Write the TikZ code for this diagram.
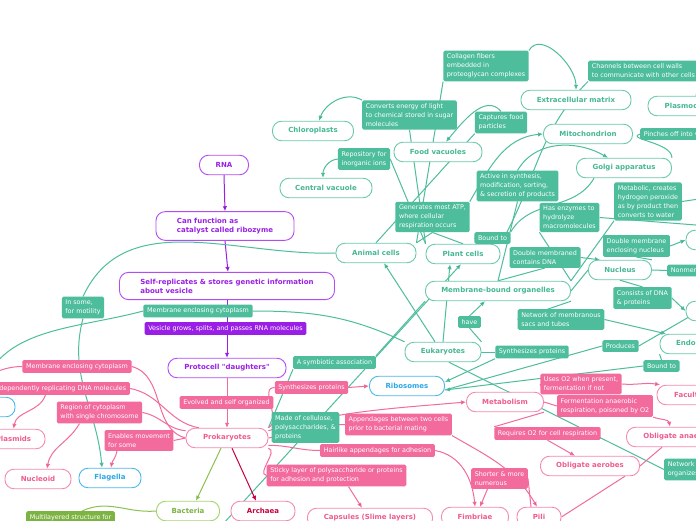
\documentclass[tikz,border=0pt]{standalone}
\usepackage{fontspec}
\setmainfont{DejaVu Sans}
\newfontfamily\djv{DejaVu Sans}
\usetikzlibrary{arrows.meta,backgrounds}

\definecolor{cTeal}{HTML}{4DBD9C}
\definecolor{cTealBd}{HTML}{6CC9AD}
\definecolor{cTealTxt}{HTML}{45B793}
\definecolor{cPink}{HTML}{F26B9C}
\definecolor{cPinkBd}{HTML}{F58AB1}
\definecolor{cPinkTxt}{HTML}{EE5C90}
\definecolor{cPurple}{HTML}{9A1FE6}
\definecolor{cPurpleBd}{HTML}{B24DF2}
\definecolor{cBlue}{HTML}{2DA8E6}
\definecolor{cBlueBd}{HTML}{4BB8EE}
\definecolor{cGreen}{HTML}{8CC152}
\definecolor{cGreenBd}{HTML}{A5D46A}
\definecolor{cGreenLbl}{HTML}{7CB342}
\definecolor{cArch}{HTML}{C8003E}

\begin{document}
\begin{tikzpicture}[x=1pt,y=1pt,
    topic/.style={draw,fill=white,rounded corners=9pt,line width=0.9pt,
      minimum height=19.5pt,inner xsep=6pt,inner ysep=2pt,align=left,
      font=\djv\fontsize{7}{8.8}\selectfont\bfseries},
    tealtopic/.style={topic,draw=cTealBd,text=cTealTxt},
    pinktopic/.style={topic,draw=cPinkBd,text=cPinkTxt},
    purpletopic/.style={topic,draw=cPurpleBd,text=cPurple},
    bluetopic/.style={topic,draw=cBlueBd,text=cBlue},
    tag/.style={rounded corners=1.5pt,inner xsep=3.6pt,inner ysep=3.4pt,
      align=left,text=white,font=\djv\fontsize{6.4}{8.8}\selectfont},
    tealtag/.style={tag,fill=cTeal},
    pinktag/.style={tag,fill=cPink},
    purpletag/.style={tag,fill=cPurple},
    greentag/.style={tag,fill=cGreenLbl},
    tealline/.style={draw=cTeal,line width=1pt},
    pinkline/.style={draw=cPink,line width=1pt},
    tip/.style={-{Latex[length=5pt,width=4.5pt]}}]

  \useasboundingbox (0,0) rectangle (696,520);
  \clip (0,0) rectangle (696,520);

  % origin of life
  \node[purpletopic,minimum width=49pt] (rna) at (224,355) {RNA};
  \node[purpletopic,minimum width=138pt,inner ysep=6.5pt] (ribozyme) at (225,294)
    {Can function as\\catalyst called ribozyme};
  \node[purpletopic,minimum width=215pt,inner ysep=6.5pt] (selfrep) at (227,234)
    {Self-replicates \& stores genetic information\\about vesicle};
  \node[purpletopic,minimum width=118pt] (protocell) at (227,152) {Protocell "daughters"};

  % prokaryotes
  \node[pinktopic,minimum width=82pt] (prok) at (227,82) {Prokaryotes};
  \node[topic,draw=cGreenBd,text=cGreenLbl,minimum width=63pt] (bacteria) at (188,9) {Bacteria};
  \node[pinktopic,text=cArch,minimum width=64pt] (archaea) at (263,9) {Archaea};
  \node[pinktopic,minimum width=125pt] (capsules) at (370,2) {Capsules (Slime layers)};
  \node[pinktopic,minimum width=67pt] (fimbriae) at (475,3) {Fimbriae};
  \node[pinktopic,minimum width=44pt] (pili) at (539,3) {Pili};
  \node[pinktopic,minimum width=99pt] (oblaer) at (590,54) {Obligate aerobes};
  \node[pinktopic,minimum width=111pt] (oblanaer) at (682,83) {Obligate anaerobes};
  \node[pinktopic,minimum width=122pt] (facult) at (718,125) {Facultative anaerobes};
  \node[pinktopic,minimum width=77pt] (metab) at (505,118) {Metabolism};
  \node[pinktopic,minimum width=66pt] (nucleoid) at (38,41) {Nucleoid};
  \node[pinktopic,minimum width=63pt] (plasmids) at (13.5,81) {Plasmids};
  \node[bluetopic,minimum width=62pt] (flagella) at (110,42) {Flagella};
  \node[bluetopic,minimum width=75pt] (ribo) at (407,134) {Ribosomes};
  \node[bluetopic,minimum width=70pt] (pm) at (-20,113) {};

  % eukaryotes
  \node[tealtopic,minimum width=76pt] (euk) at (443,168) {Eukaryotes};
  \node[tealtopic,minimum width=145pt] (mbo) at (498,229) {Membrane-bound organelles};
  \node[tealtopic,minimum width=80pt] (animal) at (376,267) {Animal cells};
  \node[tealtopic,minimum width=74pt] (plant) at (463,266) {Plant cells};
  \node[tealtopic,minimum width=63pt] (nucleus) at (620,250) {Nucleus};
  \node[tealtopic,minimum width=92pt] (centralvac) at (326,332) {Central vacuole};
  \node[tealtopic,minimum width=81pt] (chloro) at (313,389) {Chloroplasts};
  \node[tealtopic,minimum width=88pt] (foodvac) at (438,368) {Food vacuoles};
  \node[tealtopic,minimum width=110pt] (ecm) at (576,420) {Extracellular matrix};
  \node[tealtopic,minimum width=89pt] (mito) at (588,386) {Mitochondrion};
  \node[tealtopic,minimum width=95pt] (golgi) at (624,352) {Golgi apparatus};
  \node[tealtopic,minimum width=96pt] (plasmo) at (696,414) {Plasmodesmata};
  \node[tealtopic,minimum width=110pt] (nucenv) at (741,280) {Nuclear envelope};
  \node[tealtopic,minimum width=80pt] (chromatin) at (726,209) {Chromatin};
  \node[tealtopic,minimum width=122pt] (er) at (721,176) {Endoplasmic reticulum};

  \coordinate (cellwall) at (190,-40);
  \coordinate (lysos) at (760,290);
  \coordinate (perox) at (760,330);
  \coordinate (vesic) at (760,386);
  \coordinate (nucleolus) at (770,250);

  % teal labels
  \node[tealtag] (collagen) at (486,454) {Collagen fibers\\embedded in\\proteoglycan complexes};
  \node[tealtag] (converts) at (409.5,405) {Converts energy of light\\to chemical stored in sugar\\molecules};
  \node[tealtag] (captures) at (501,397.5) {Captures food\\particles};
  \node[tealtag,anchor=west] (channels) at (588,449) {Channels between cell walls\\to communicate with other cells};
  \node[tealtag] (repository) at (364,361) {Repository for\\inorganic ions};
  \node[tealtag,anchor=west] (pinches) at (640,386) {Pinches off into vesicles};
  \node[tealtag] (active) at (517.5,334) {Active in synthesis,\\modification, sorting,\\\& secretion of products};
  \node[tealtag] (metabolic) at (648,318.5) {Metabolic, creates\\hydrogen peroxide\\as by product then\\converts to water};
  \node[tealtag] (generates) at (432.5,303) {Generates most ATP,\\where cellular\\respiration occurs};
  \node[tealtag] (hasenz) at (569.5,302.5) {Has enzymes to\\hydrolyze\\macromolecules};
  \node[tealtag] (boundto1) at (492.5,282) {Bound to};
  \node[tealtag] (dblnuc) at (636.5,274) {Double membrane\\enclosing nucleus};
  \node[tealtag] (dbldna) at (545,262.5) {Double membraned\\contains DNA};
  \node[tealtag] (consists) at (642.5,222) {Consists of DNA\\\& proteins};
  \node[tealtag] (network1) at (561,200.5) {Network of membranous\\sacs and tubes};
  \node[tealtag] (have) at (469.5,198) {have};
  \node[tealtag] (produces) at (620.5,174) {Produces};
  \node[tealtag] (synthT) at (532,168) {Synthesizes proteins};
  \node[tealtag] (boundto2) at (661.5,154) {Bound to};
  \node[tealtag,anchor=west] (network2) at (664,50.5) {Network of fibers\\organizes structures};
  \node[tealtag,anchor=west] (nonmem) at (667,249.5) {Nonmembranous};
  \node[tealtag] (insome) at (83,212.5) {In some,\\for motility};
  \node[tealtag] (memT) at (198,209) {Membrane enclosing cytoplasm};
  \node[purpletag] (vesicle) at (225.5,191.5) {Vesicle grows, splits, and passes RNA molecules};
  \node[tealtag] (symb) at (334.5,157.5) {A symbiotic association};
  \node[tealtag] (cellulose) at (305.5,92.5) {Made of cellulose,\\polysaccharides, \&\\proteins};

  % pink labels
  \node[pinktag] (memP) at (77,153.5) {Membrane enclosing cytoplasm};
  \node[pinktag,anchor=east] (indep) at (130,131.5) {Independently replicating DNA molecules};
  \node[pinktag] (region) at (99.5,107.5) {Region of cytoplasm\\with single chromosome};
  \node[pinktag] (enables) at (139,79.5) {Enables movement\\for some};
  \node[pinktag] (evolved) at (226.5,117.5) {Evolved and self organized};
  \node[pinktag] (synthP) at (311.5,132.5) {Synthesizes proteins};
  \node[pinktag] (append) at (398.5,95.5) {Appendages between two cells\\prior to bacterial mating};
  \node[pinktag] (hairlike) at (377.5,69.5) {Hairlike appendages for adhesion};
  \node[pinktag] (sticky) at (336.5,44.5) {Sticky layer of polysaccharide or proteins\\for adhesion and protection};
  \node[pinktag] (shorter) at (499.5,41.5) {Shorter \& more\\numerous};
  \node[pinktag] (requires) at (547.5,86.5) {Requires O2 for cell respiration};
  \node[pinktag] (uses) at (581,136) {Uses O2 when present,\\fermentation if not};
  \node[pinktag] (ferm) at (605,114) {Fermentation anaerobic\\respiration, poisoned by O2};
  \node[greentag,anchor=north west] (multi) at (26,9) {Multilayered structure for};

  \begin{scope}[on background layer]
  \fill[white] (0,0) rectangle (696,520);
  \path[draw=cPurple,line width=1pt]
    (rna.south) edge[tip] (ribozyme.north)
    (ribozyme.south) edge[tip] ([xshift=1pt]selfrep.north)
    (selfrep.south) edge[tip] (protocell.north);
  \path[tealline]
    (animal.west) edge[out=182,in=65] (insome.north)
    (insome.south) edge[tip,out=-105,in=95] ([xshift=-8pt]flagella.north)
    (euk.north west) edge[out=155,in=0] (memT.east)
    (memT.west) edge[tip,out=195,in=75] (pm.north)
    ([xshift=-8pt]euk.north) edge[tip] ([xshift=8pt]animal.south)
    (euk.north) edge[tip] ([xshift=-13pt]plant.south)
    (euk.north east) edge (have.south)
    (have.north) edge[tip] ([xshift=-13pt]mbo.south)
    (euk.east) edge (synthT.west)
    (synthT.south west) edge[tip] ([yshift=4pt]ribo.east)
    (er.south west) edge (boundto2.north)
    (boundto2.west) edge[tip] ([yshift=-4pt]ribo.east)
    (nucleolus) edge (produces.east)
    (produces.west) edge ([yshift=-4pt]ribo.east)
    (euk.-60) edge (network2.west)
    (cellwall) edge[tip] ([xshift=-2pt]plant.south)
    (prok.north east) edge (symb.south west)
    (symb.north east) edge (mbo.south west)
    (animal.north east) edge (collagen.south west)
    (collagen.north east) edge[tip,out=60,in=90] (ecm.north)
    (animal.north) edge (captures.south west)
    (captures.north) edge[tip,out=130,in=50] ([xshift=8pt]foodvac.north)
    (plant.north west) edge (converts.south)
    (converts.north west) edge[tip,out=150,in=70] ([xshift=6pt]chloro.north)
    (plant.north west) edge (repository.east)
    (repository.west) edge[tip,out=185,in=90] ([xshift=-3pt]centralvac.north)
    (plant.north east) edge[out=60,in=225] (channels.south west)
    (channels.south east) edge (plasmo.north)
    (animal.north east) edge (generates.south)
    (plant.north) edge (generates.south)
    (generates.north east) edge[tip,out=60,in=185] (mito.west)
    (mbo.north) edge (active.south)
    (active.north) edge[tip,out=60,in=150] ([xshift=-16pt]golgi.north)
    (golgi.north east) edge[out=90,in=200] (pinches.west)
    (pinches.east) edge (vesic)
    (mbo.north east) edge (hasenz.south west)
    (hasenz.east) edge (lysos)
    (mbo.north east) edge (metabolic.south west)
    (metabolic.east) edge (perox)
    (mbo.north) edge (dbldna.south)
    (dbldna.east) edge[tip] ([xshift=-20pt]nucleus.north)
    (mbo.east) edge (nucleus.west)
    (nucleus.north east) edge (dblnuc.south)
    (dblnuc.east) edge[tip] (nucenv.west)
    (nucleus.south) edge (consists.north)
    (consists.east) edge[tip] (chromatin.west)
    (nucleus.east) edge (nonmem.west)
    (nonmem.east) edge (nucleolus)
    (mbo.south east) edge (network1.west)
    (network1.east) edge[tip] ([xshift=-55pt]er.north)
    (plant.north east) edge (boundto1.west)
    (boundto1.north east) edge[out=60,in=240] ([xshift=-30pt]golgi.south);
  \path[pinkline]
    (protocell.south) edge[tip] (prok.north)
    (prok.west) edge[out=165,in=-15] (memP.east)
    (memP.west) edge[tip,out=180,in=90] (pm.north)
    (prok.160) edge[out=170,in=-10] (indep.east)
    (indep.south -| plasmids.east) edge[tip,out=-110,in=80] (plasmids.north)
    (prok.170) edge[out=175,in=-10] (region.east)
    ([xshift=-20pt]region.south) edge[tip,out=-120,in=80] ([xshift=9pt]nucleoid.north)
    (prok.west) edge (enables.east)
    ([xshift=-22pt]enables.south) edge[tip,out=-100,in=80] ([xshift=1pt]flagella.north)
    (prok.north east) edge[out=30,in=180] (synthP.west)
    (synthP.east) edge[tip] (ribo.west)
    (prok.10) edge[tip,out=15,in=185] (metab.west)
    (prok.east) edge[out=10,in=180] (append.west)
    (append.south east) edge[tip,out=-30,in=120] ([xshift=-2pt]pili.north)
    (prok.-10) edge[out=0,in=180] (hairlike.west)
    (hairlike.east) edge[tip,out=-10,in=95] (fimbriae.north)
    (prok.south east) edge[out=-15,in=170] (sticky.west)
    ([xshift=12pt]sticky.south) edge[tip] ([xshift=-8pt]capsules.north)
    (metab.north east) edge (uses.west)
    (uses.east) edge[tip,out=-5,in=170] (facult.170)
    (metab.east) edge (ferm.west)
    (ferm.south east) edge[tip,out=-20,in=100] ([xshift=-12pt]oblanaer.north)
    (metab.south east) edge (requires.north west)
    (requires.south) edge[tip] ([xshift=-15pt]oblaer.north)
    ([xshift=-8pt]pili.north) edge (shorter.east)
    ([xshift=-12pt]shorter.south) edge[tip] ([xshift=5pt]fimbriae.north)
    (oblaer.east) edge ([xshift=-20pt]oblanaer.south)
    (pili.east) edge ([xshift=35pt]oblaer.south);
  \path[draw=cGreen,line width=1pt]
    ([xshift=-6pt]prok.south) edge[tip] ([xshift=8pt]bacteria.north)
    ([xshift=-33pt]multi.north east) edge[out=25,in=185] (bacteria.west);
  \path[draw=cArch,line width=1pt]
    ([xshift=5pt]prok.south) edge[tip] ([xshift=-7pt]archaea.north);
  \end{scope}
\end{tikzpicture}
\end{document}
